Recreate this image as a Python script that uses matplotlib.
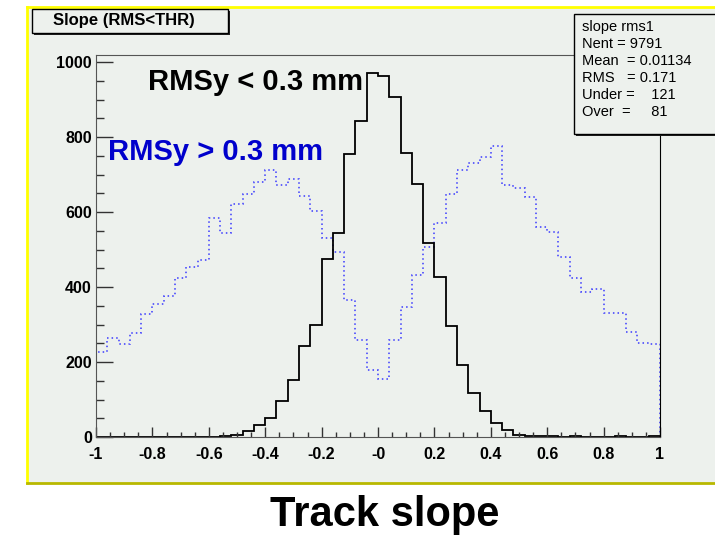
"""Track slope histograms, RMSy below / above 0.3 mm (ROOT-style canvas)."""
import matplotlib

matplotlib.use("Agg")
import matplotlib.pyplot as plt
import numpy as np
from matplotlib.patches import Rectangle
from matplotlib.ticker import MultipleLocator

# 50 bins over [-1, 1]
x_range = (-1.0, 1.0)
rms_low_counts = [1, 1, 1, 0, 0, 1, 1, 0, 1, 1,
                  0, 2, 5, 15, 31, 52, 96, 153, 243, 298,
                  475, 545, 755, 842, 971, 964, 906, 757, 675, 518,
                  426, 296, 193, 117, 69, 38, 20, 5, 3, 3,
                  3, 1, 2, 0, 1, 0, 2, 0, 1, 2]
rms_high_counts = [227, 265, 249, 277, 327, 355, 377, 425, 453, 471,
                   584, 545, 621, 648, 681, 712, 673, 688, 644, 603,
                   530, 493, 365, 258, 178, 155, 258, 347, 431, 506,
                   572, 648, 713, 730, 748, 776, 673, 665, 639, 559,
                   548, 479, 423, 386, 396, 331, 331, 281, 250, 247]
x_ticks = [-1, -0.8, -0.6, -0.4, -0.2, 0, 0.2, 0.4, 0.6, 0.8, 1]
x_tick_labels = ["-1", "-0.8", "-0.6", "-0.4", "-0.2", "-0", "0.2", "0.4", "0.6", "0.8", "1"]
y_ticks = [0, 200, 400, 600, 800, 1000]
stats_lines = ["slope rms1", "Nent = 9791", "Mean  = 0.01134", "RMS   = 0.171",
               "Under =    121", "Over  =     81"]

W, H = 715, 536
BG = "#edf1ed"
FONT = ["Liberation Sans", "DejaVu Sans"]


def fx(x):
    return x / W


def fy(y):
    return 1 - y / H


fig = plt.figure(figsize=(W / 100, H / 100), dpi=100)

# pad background with bevelled border
fig.patches.append(Rectangle((fx(27), fy(483)), fx(715 - 27) + 0.01, (483 - 7) / H,
                             transform=fig.transFigure, facecolor=BG, edgecolor="none", zorder=-10))
fig.add_artist(plt.Line2D([fx(27), fx(27)], [fy(483), fy(7)], color="#ffff00", lw=2, zorder=-9))
fig.add_artist(plt.Line2D([fx(27), 1.0], [fy(7), fy(7)], color="#ffff00", lw=2, zorder=-9))
fig.add_artist(plt.Line2D([fx(27), 1.0], [fy(483), fy(483)], color="#b8b800", lw=2, zorder=-9))

ax = fig.add_axes([fx(96), fy(437), fx(660 - 96), (437 - 55) / H])
ax.set_facecolor("none")

edges = np.linspace(x_range[0], x_range[1], len(rms_low_counts) + 1)
ax.stairs(rms_high_counts, edges, baseline=0, color="#3a3aff", lw=1.1,
          linestyle=(0, (1, 2)))
ax.stairs(rms_low_counts, edges, baseline=0, color="black", lw=1.3)

ax.set_xlim(*x_range)
ax.set_ylim(0, 1019)
ax.set_xticks(x_ticks)
ax.set_xticklabels(x_tick_labels)
ax.set_yticks(y_ticks)
ax.xaxis.set_minor_locator(MultipleLocator(0.05))
ax.yaxis.set_minor_locator(MultipleLocator(50))
ax.tick_params(axis="x", which="major", direction="in", length=7.2, width=1, color="#333333", pad=7)
ax.tick_params(axis="x", which="minor", direction="in", length=3.6, width=1, color="#333333")
ax.tick_params(axis="y", which="major", direction="in", length=12.5, width=1, color="#333333", pad=3)
ax.tick_params(axis="y", which="minor", direction="in", length=5.8, width=1, color="#333333")
for lab in ax.get_xticklabels() + ax.get_yticklabels():
    lab.set_family(FONT)
    lab.set_fontweight("bold")
    lab.set_fontsize(11.5)
for side in ["left", "bottom", "top"]:
    ax.spines[side].set_color("#555555")
ax.spines["right"].set_color("black")

# labels inside the frame
fig.text(fx(148), fy(82), "RMSy < 0.3 mm", family=FONT, fontweight="bold", fontsize=21,
         color="black", ha="left", va="center")
fig.text(fx(108), fy(152), "RMSy > 0.3 mm", family=FONT, fontweight="bold", fontsize=21,
         color="#0000cc", ha="left", va="center")

# title box
fig.patches.append(Rectangle((fx(34), fy(35)), fx(196), 24 / H, transform=fig.transFigure,
                             facecolor="#222222", edgecolor="none", zorder=4))
fig.patches.append(Rectangle((fx(32), fy(33)), fx(196), 24 / H, transform=fig.transFigure,
                             facecolor=BG, edgecolor="black", lw=1, zorder=5))
fig.text(fx(124), fy(21), "Slope (RMS<THR)", family=FONT, fontweight="bold", fontsize=12,
         ha="center", va="center", zorder=6)

# stats box
fig.patches.append(Rectangle((fx(576), fy(136)), fx(160), (134 - 14) / H, transform=fig.transFigure,
                             facecolor="#222222", edgecolor="none", zorder=4))
fig.patches.append(Rectangle((fx(574), fy(134)), fx(160), (134 - 14) / H, transform=fig.transFigure,
                             facecolor=BG, edgecolor="black", lw=1, zorder=5))
for i, line in enumerate(stats_lines):
    fig.text(fx(582), fy(27 + i * 17.0), line, family=FONT, fontsize=10.5,
             ha="left", va="center", zorder=6)

fig.text(fx(385), fy(515), "Track slope", family=FONT, fontweight="bold", fontsize=30,
         ha="center", va="center")

fig.savefig("out.png", dpi=100)
plt.close(fig)
